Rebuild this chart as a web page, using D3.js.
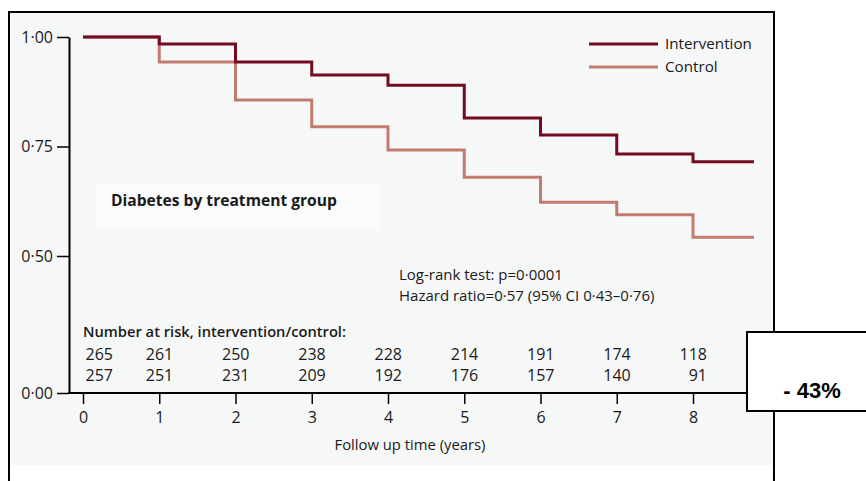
<!DOCTYPE html>
<html><head><meta charset="utf-8">
<script src="https://cdn.jsdelivr.net/npm/d3@7"></script>
<style>
html,body{margin:0;padding:0;background:#fff;}
svg{display:block;font-family:"Open Sans",sans-serif;}
</style></head>
<body><svg id="c" width="866" height="481"></svg>
<script>
// ---- data ----
const years = [0,1,2,3,4,5,6,7,8];
const endYear = 8.8;
const intervention = [1.000,0.984,0.943,0.913,0.890,0.815,0.776,0.733,0.715];
const control      = [1.000,0.943,0.856,0.795,0.742,0.680,0.623,0.594,0.543];
const riskIntervention = [265,261,250,238,228,214,191,174,118];
const riskControl      = [257,251,231,209,192,176,157,140,91];
const yTicks = [0,0.5,0.75,1];
const seriesNames = ["Intervention","Control"];
const colors = {Intervention:"#730b22", Control:"#c27b6f"};
const ink = "#1a1a1a";

const svg = d3.select("#c");
// frame
svg.append("rect").attr("x",11).attr("y",13).attr("width",762).attr("height",452).attr("fill","#f6f7f7");
svg.append("path").attr("d","M9,481 V12 H774 V481").attr("fill","none").attr("stroke","#000").attr("stroke-width",2);

const x = d3.scaleLinear().domain([0,8]).range([83,693]);
const y = d3.scaleLinear().domain([0,0.5,1]).range([393,256,37]);
const fmt = d => d3.format(".2f")(d).replace(".","·");

// y axis
const ya = svg.append("g").attr("transform","translate(69,0)")
  .call(d3.axisLeft(y).tickValues(yTicks).tickFormat(fmt).tickSize(12).tickSizeOuter(0).tickPadding(4));
ya.select(".domain").attr("stroke","#000").attr("stroke-width",2);
ya.selectAll(".tick line").attr("stroke","#000").attr("stroke-width",1.5);
ya.selectAll("text").attr("font-size",16).attr("fill",ink).attr("font-family","Open Sans");

// x axis
svg.append("line").attr("x1",68).attr("x2",x(8.85)).attr("y1",y(0)).attr("y2",y(0)).attr("stroke","#000").attr("stroke-width",2);
const xa = svg.append("g").attr("transform",`translate(0,${y(0)})`)
  .call(d3.axisBottom(x).tickValues(years).tickFormat(d3.format("d")).tickSize(11).tickPadding(8));
xa.select(".domain").remove();
xa.selectAll(".tick line").attr("stroke","#000").attr("stroke-width",1.5);
xa.selectAll("text").attr("font-size",16).attr("fill",ink).attr("font-family","Open Sans");

svg.append("text").attr("x",410).attr("y",450).attr("text-anchor","middle")
  .attr("font-size",14.8).attr("fill",ink).text("Follow up time (years)");

// curves
function stepData(vals){ const pts = years.map((t,i)=>[t,vals[i]]); pts.push([endYear, vals[vals.length-1]]); return pts; }
const line = d3.line().x(d=>x(d[0])).y(d=>y(d[1])).curve(d3.curveStepAfter);
svg.append("path").datum(stepData(control)).attr("d",line).attr("fill","none")
  .attr("stroke",colors.Control).attr("stroke-width",3);
svg.append("path").datum(stepData(intervention)).attr("d",line).attr("fill","none")
  .attr("stroke",colors.Intervention).attr("stroke-width",3);

// legend
seriesNames.forEach((s,i)=>{
  const ly = 44 + i*23;
  svg.append("line").attr("x1",589).attr("x2",658).attr("y1",ly).attr("y2",ly)
    .attr("stroke",colors[s]).attr("stroke-width",3);
  svg.append("text").attr("x",665).attr("y",ly+5).attr("font-size",15.2).attr("fill",ink).text(s);
});

// annotations
svg.append("rect").attr("x",95).attr("y",184).attr("width",285).attr("height",46).attr("fill","#fbfbfb");
svg.append("text").attr("x",111).attr("y",206).attr("font-size",15.6).attr("font-weight",700).attr("fill",ink)
  .text("Diabetes by treatment group");
svg.append("text").attr("x",399).attr("y",280).attr("font-size",15).attr("fill",ink).text("Log-rank test: p=0·0001");
svg.append("text").attr("x",399).attr("y",301).attr("font-size",15).attr("fill",ink).text("Hazard ratio=0·57 (95% CI 0·43–0·76)");

// number at risk
svg.append("text").attr("x",83).attr("y",337).attr("font-size",14.7).attr("font-weight",600).attr("fill",ink)
  .text("Number at risk, intervention/control:");
[riskIntervention, riskControl].forEach((row,r)=>{
  svg.append("g").selectAll("text").data(row).join("text")
    .attr("x",(d,i)=> i===0 ? x(years[i])+30 : x(years[i])+14)
    .attr("y",360 + r*21).attr("text-anchor","end")
    .attr("font-size",16).attr("fill",ink).text(d=>d);
});

// -43% box
svg.append("rect").attr("x",747).attr("y",332).attr("width",125).attr("height",79)
  .attr("fill","#fff").attr("stroke","#000").attr("stroke-width",2);
svg.append("text").attr("x",812).attr("y",398).attr("text-anchor","middle")
  .attr("font-family","Liberation Sans, Arial, sans-serif").attr("font-size",22).attr("font-weight",700).attr("fill","#000")
  .text("- 43%");
</script></body></html>
